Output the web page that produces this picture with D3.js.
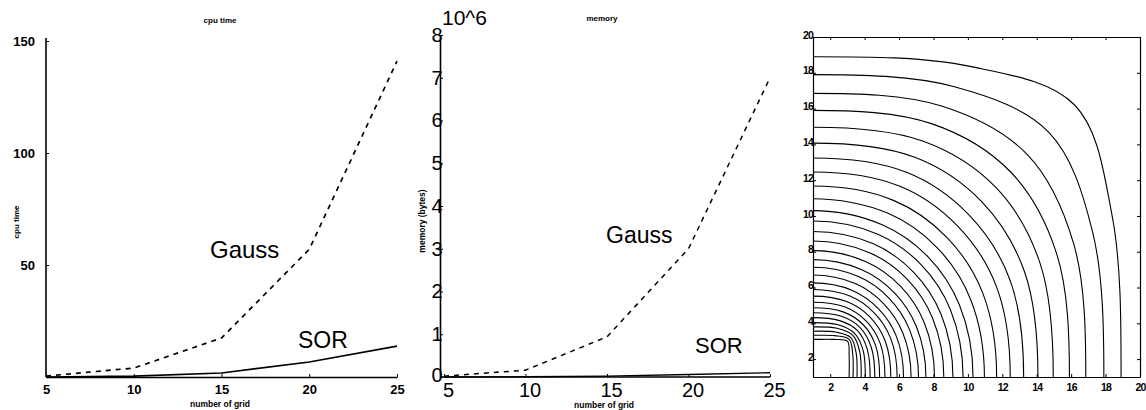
<!DOCTYPE html>
<html>
<head>
<meta charset="utf-8">
<script src="https://cdn.jsdelivr.net/npm/d3@7"></script>
<style>
  body { margin: 0; background: #fff; }
  text { fill: #000; }
  .small { font-family: "Liberation Sans", Arial, sans-serif; font-weight: bold; }
  .thin { font-family: "Liberation Sans Narrow", "Liberation Sans", sans-serif; }
</style>
</head>
<body>
<script>
// grid sizes on the x axis of both line charts
const grids = [5, 10, 15, 20, 25]
// cpu time (s)
const gaussCpu = [0.4, 4, 17.4, 57, 141]
const sorCpu = [0, 0.4, 1.8, 6.7, 13.8]
// memory (10^6 bytes)
const gaussMem = [0.02, 0.16, 0.94, 3.0, 7.0]
const sorMem = [0, 0.005, 0.02, 0.06, 0.1]

const cpuTicks = [0, 50, 100, 150]
const memTicks = [0, 1, 2, 3, 4, 5, 6, 7, 8]
const contourTicks = [2, 4, 6, 8, 10, 12, 14, 16, 18, 20]

// contour lines of the right panel: where each crosses the left edge (= bottom edge),
// its height at the shoulder and where it crosses the diagonal x = y
const edgeCross = [3.1, 3.33, 3.56, 3.8, 4.04, 4.32, 4.59, 4.87, 5.18, 5.52, 5.89, 6.26, 6.7, 7.13, 7.56,
  8.06, 8.6, 9.13, 9.72, 10.3, 10.96, 11.67, 12.46, 13.24, 14.07, 14.96, 15.9, 16.85, 17.9, 18.9]
const shoulder = [3.1, 3.31, 3.51, 3.72, 3.92, 4.15, 4.39, 4.64, 4.91, 5.2, 5.52, 5.84, 6.22, 6.61, 7.0,
  7.46, 7.95, 8.44, 8.98, 9.51, 10.16, 10.87, 11.66, 12.44, 13.29, 14.19, 15.16, 16.14, 17.22, 18.36]
const diagCross = [3.0, 3.1, 3.2, 3.32, 3.43, 3.59, 3.75, 3.92, 4.11, 4.33, 4.57, 4.81, 5.1, 5.41, 5.72,
  6.08, 6.47, 6.85, 7.28, 7.7, 8.22, 8.79, 9.42, 10.06, 10.8, 11.61, 12.47, 13.44, 14.69, 16.2]

const svg = d3.select('body').append('svg')
  .attr('width', 1146)
  .attr('height', 410)

// ---------- cpu time ----------
const xL = d3.scaleLinear().domain([5, 25]).range([46, 397])
const yL = d3.scaleLinear().domain([0, 150]).range([377, 41])

svg.append('g')
  .attr('transform', 'translate(46,0)')
  .call(d3.axisLeft(yL).tickValues(cpuTicks).tickSize(-3).tickSizeOuter(0).tickPadding(11)
    .tickFormat(d => d ? d : ''))
  .call(g => g.selectAll('text').attr('class', 'small').attr('font-size', 13))
  .call(g => g.select('.domain').attr('d', 'M0,38V377').attr('stroke-width', 1.6))

svg.append('g')
  .attr('transform', 'translate(0,377)')
  .call(d3.axisBottom(xL).tickValues(grids).tickSize(-3).tickSizeOuter(0).tickPadding(8))
  .call(g => g.selectAll('text').attr('class', 'small').attr('font-size', 13))
  .call(g => g.select('.domain').attr('stroke-width', 1.6))

const lineL = d3.line().x((d, i) => xL(grids[i])).y(d => yL(d))
svg.append('path').datum(gaussCpu).attr('d', lineL)
  .attr('fill', 'none').attr('stroke', '#000').attr('stroke-width', 1.7).attr('stroke-dasharray', '5,5')
svg.append('path').datum(sorCpu).attr('d', lineL)
  .attr('fill', 'none').attr('stroke', '#000').attr('stroke-width', 1.6)

svg.append('text').attr('class', 'small').attr('font-size', 8).attr('x', 220).attr('y', 23)
  .attr('text-anchor', 'middle').text('cpu time')
svg.append('text').attr('class', 'small').attr('font-size', 8)
  .attr('transform', 'translate(19,222) rotate(-90)').attr('text-anchor', 'middle').text('cpu time')
svg.append('text').attr('class', 'small').attr('font-size', 8.5).attr('x', 220).attr('y', 407)
  .attr('text-anchor', 'middle').text('number of grid')
svg.append('text').attr('class', 'thin').attr('font-size', 24).attr('x', 210).attr('y', 258).text('Gauss')
svg.append('text').attr('class', 'thin').attr('font-size', 23).attr('x', 298).attr('y', 348).text('SOR')

// ---------- memory ----------
const xM = d3.scaleLinear().domain([5, 25]).range([444, 770])
const yM = d3.scaleLinear().domain([0, 8]).range([377, 35])

svg.append('g')
  .attr('transform', 'translate(440,0)')
  .call(d3.axisLeft(yM).tickValues(memTicks).tickSize(-3).tickSizeOuter(0))
  .call(g => g.selectAll('text').attr('class', 'thin').attr('font-size', 20)
    .attr('x', -3).attr('text-anchor', 'middle'))
  .call(g => g.select('.domain').attr('stroke-width', 1.6))
  .call(g => g.select('.tick text').attr('dy', '0.2em'))

svg.append('g')
  .attr('transform', 'translate(0,377)')
  .call(d3.axisBottom(xM).tickValues(grids).tickSize(-3).tickSizeOuter(0).tickPadding(6))
  .call(g => g.selectAll('text').attr('class', 'thin').attr('font-size', 20).attr('dx', 4))
  .call(g => g.select('.domain').attr('d', 'M440,0H770').attr('stroke-width', 1.6))

const lineM = d3.line().x((d, i) => xM(grids[i])).y(d => yM(d))
svg.append('path').datum(gaussMem).attr('d', lineM)
  .attr('fill', 'none').attr('stroke', '#000').attr('stroke-width', 1.5).attr('stroke-dasharray', '5,5')
svg.append('path').datum(sorMem).attr('d', lineM)
  .attr('fill', 'none').attr('stroke', '#000').attr('stroke-width', 1.4)

svg.append('text').attr('class', 'thin').attr('font-size', 21).attr('x', 442).attr('y', 25).text('10^6')
svg.append('text').attr('class', 'small').attr('font-size', 8).attr('x', 602).attr('y', 21)
  .attr('text-anchor', 'middle').text('memory')
svg.append('text').attr('class', 'small').attr('font-size', 8.5)
  .attr('transform', 'translate(425,221) rotate(-90)').attr('text-anchor', 'middle').text('memory (bytes)')
svg.append('text').attr('class', 'small').attr('font-size', 8.5).attr('x', 604).attr('y', 408)
  .attr('text-anchor', 'middle').text('number of grid')
svg.append('text').attr('class', 'thin').attr('font-size', 23).attr('x', 606).attr('y', 243).text('Gauss')
svg.append('text').attr('class', 'thin').attr('font-size', 22).attr('x', 695).attr('y', 353).text('SOR')

// ---------- contour ----------
const xR = d3.scaleLinear().domain([1, 20]).range([813, 1140])
const yR = d3.scaleLinear().domain([1, 20]).range([377, 37])

svg.append('clipPath').attr('id', 'box')
  .append('rect').attr('x', 813).attr('y', 37).attr('width', 327).attr('height', 340)

// one quarter is seen; the loop is mirrored about x = 1 and y = 1 so the curve meets the edges square
const loop = (a, s, d) => {
  const r = a - 1, sh = s - 1, dg = d - 1, m = 0.6 * dg
  const q = [[0, r], [m, sh], [dg, dg], [sh, m], [r, 0]]
  const rq = q.slice().reverse()
  const pts = [].concat(
    q.slice(0, -1),
    rq.map(p => [p[0], -p[1]]).slice(0, -1),
    q.map(p => [-p[0], -p[1]]).slice(0, -1),
    rq.map(p => [-p[0], p[1]]).slice(0, -1))
  return pts.map(p => [1 + p[0], 1 + p[1]])
}
const lineR = d3.line().x(p => xR(p[0])).y(p => yR(p[1])).curve(d3.curveCatmullRomClosed.alpha(0.5))

svg.append('g').attr('clip-path', 'url(#box)')
  .selectAll('path')
  .data(edgeCross.map((a, i) => loop(a, shoulder[i], diagCross[i])))
  .enter().append('path')
    .attr('d', lineR)
    .attr('fill', 'none')
    .attr('stroke', '#000')
    .attr('stroke-width', 1.1)

const boxAxis = (axis, tr, labels) => svg.append('g')
  .attr('transform', tr)
  .call(axis.tickValues(contourTicks).tickSize(-3).tickSizeOuter(0).tickPadding(labels ? 2 : 0)
    .tickFormat(labels ? d => d : () => ''))
  .call(g => g.selectAll('text').attr('class', 'small').attr('font-size', 10.5).attr('letter-spacing', -0.8))
  .call(g => g.select('.domain').attr('stroke-width', 1.2))

boxAxis(d3.axisBottom(xR), 'translate(0,377)', true).selectAll('text').attr('y', 7)
boxAxis(d3.axisTop(xR), 'translate(0,37)', false)
boxAxis(d3.axisLeft(yR), 'translate(813,0)', true).selectAll('text').attr('x', 0).attr('dy', '0.1em')
boxAxis(d3.axisRight(yR), 'translate(1140,0)', false)
</script>
</body>
</html>
